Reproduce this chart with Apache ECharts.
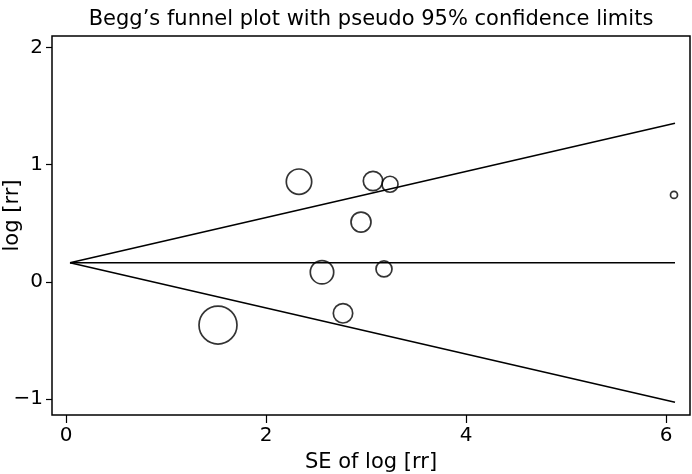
<!DOCTYPE html>
<html>
<head>
<meta charset="utf-8">
<script src="https://cdn.jsdelivr.net/npm/echarts@6/dist/echarts.min.js"></script>
<style>html,body{margin:0;padding:0;background:#fff}#c{width:692px;height:474px}</style>
</head>
<body>
<div id="c"></div>
<script>
// Study data: standard error, log relative risk, and marker weight (radius)
var se = [2.33, 3.07, 3.24, 2.95, 2.56, 3.18, 1.52, 2.77, 6.08];
var logrr = [0.855, 0.861, 0.833, 0.511, 0.083, 0.111, -0.367, -0.267, 0.742];
var weights = [12.7, 9.7, 8, 10, 11.7, 8, 19, 9.7, 3.5];
// Pseudo 95% confidence limits: pooled estimate and limits at max SE
var funnelSE = [0.04, 6.09];
var pooled = [0.164, 0.164];
var upperLimit = [0.164, 1.353];
var lowerLimit = [0.164, -1.026];
var xTicks = [0, 2, 4, 6];
var yTicks = [-1, 0, 1, 2];

var font = 'DejaVu Sans';
var points = se.map(function (s, i) { return [s, logrr[i], weights[i]]; });
function pairs(ys) { return funnelSE.map(function (x, i) { return [x, ys[i]]; }); }
var lineStyle = { color: '#000', width: 1.6 };
function fmt(v) { return String(v).replace('-', '\u2212'); }

var chart = echarts.init(document.getElementById('c'));
chart.setOption({
  animation: false,
  title: {
    text: 'Begg\u2019s funnel plot with pseudo 95% confidence limits',
    left: 366, top: 4, textAlign: 'center',
    textStyle: { fontFamily: font, fontSize: 21, fontWeight: 'normal', color: '#000' }
  },
  grid: { left: 52, right: 2, top: 36, bottom: 59, show: true, borderColor: '#000', borderWidth: 1.5,
    containLabel: false, outerBoundsMode: 'none' },
  xAxis: {
    type: 'value', min: -0.14, max: 6.24,
    name: 'SE of log [rr]', nameLocation: 'middle', nameGap: 37, nameMoveOverlap: false,
    nameTextStyle: { fontFamily: font, fontSize: 21, color: '#000' },
    axisLine: { show: false, onZero: false },
    splitLine: { show: false },
    axisTick: { show: true, customValues: xTicks, length: 8, lineStyle: { color: '#000', width: 1.2 } },
    axisLabel: { customValues: xTicks, fontFamily: font, fontSize: 20, color: '#000', margin: 11, formatter: fmt }
  },
  yAxis: {
    type: 'value', min: -1.134, max: 2.097,
    name: 'log [rr]', nameLocation: 'middle', nameGap: 27, nameRotate: 90, nameMoveOverlap: false,
    nameTextStyle: { fontFamily: font, fontSize: 21, color: '#000', lineHeight: 24, padding: [0, 0, 0, 20] },
    axisLine: { show: false, onZero: false },
    splitLine: { show: false },
    axisTick: { show: true, customValues: yTicks, length: 6, lineStyle: { color: '#000', width: 1.2 } },
    axisLabel: { customValues: yTicks, fontFamily: font, fontSize: 20, color: '#000', margin: 9, formatter: fmt }
  },
  series: [
    { type: 'line', data: pairs(upperLimit), symbol: 'none', lineStyle: lineStyle, z: 2 },
    { type: 'line', data: pairs(pooled), symbol: 'none', lineStyle: lineStyle, z: 2 },
    { type: 'line', data: pairs(lowerLimit), symbol: 'none', lineStyle: lineStyle, z: 2 },
    {
      type: 'scatter', data: points,
      symbol: 'circle',
      symbolSize: function (d) { return d[2] * 2; },
      itemStyle: { color: 'rgba(0,0,0,0)', borderColor: '#000', borderWidth: 1.7 },
      z: 3
    }
  ]
});
</script>
</body>
</html>
